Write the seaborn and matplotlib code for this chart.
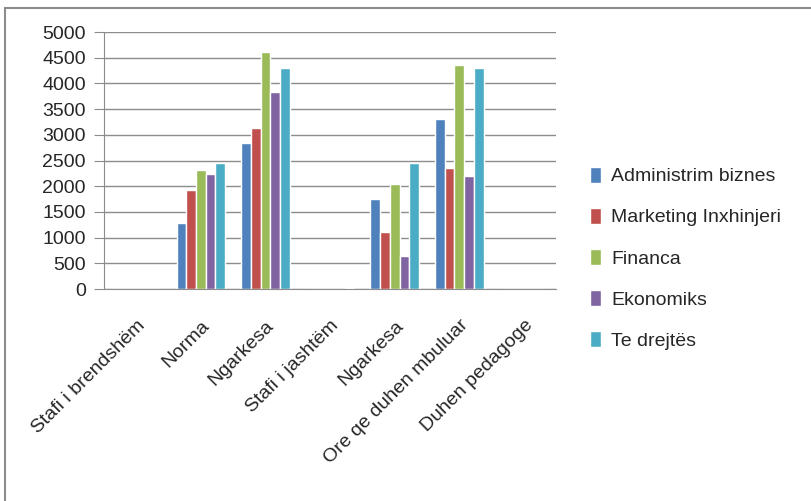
import numpy as np
import pandas as pd
import matplotlib
matplotlib.use('Agg')
import matplotlib.pyplot as plt
import seaborn as sns
from matplotlib.patches import Rectangle

# te dhenat
kategorite = ['Stafi i brendshëm', 'Norma', 'Ngarkesa', 'Stafi i jashtëm',
              'Ngarkesa', 'Ore qe duhen mbuluar', 'Duhen pedagoge']
seriet = ['Administrim biznes', 'Marketing Inxhinjeri', 'Financa', 'Ekonomiks', 'Te drejtës']
admin = [0, 1290, 2850, 0, 1750, 3310, 0]
marketing = [0, 1920, 3140, 0, 1110, 2350, 0]
financa = [0, 2310, 4610, 0, 2050, 4350, 0]
ekonomiks = [0, 2240, 3830, 0, 640, 2200, 0]
drejtes = [0, 2460, 4310, 30, 2460, 4310, 0]
ngjyrat = ['#4F81BD', '#C0504D', '#9BBB59', '#8064A2', '#4BACC6']

sns.set_style('white')
plt.rcParams['font.family'] = ['Liberation Sans', 'DejaVu Sans']

rows = []
for s, vals in zip(seriet, [admin, marketing, financa, ekonomiks, drejtes]):
    for i, v in enumerate(vals):
        rows.append({'poz': i, 'seria': s, 'vlera': v})
df = pd.DataFrame(rows)

fig = plt.figure(figsize=(8.12, 5.01), dpi=100)
ax = fig.add_axes([0.128, 0.423, 0.557, 0.513])
sns.barplot(data=df, x='poz', y='vlera', hue='seria', hue_order=seriet,
            order=list(range(7)), palette=ngjyrat, width=0.75, ax=ax,
            saturation=1, errorbar=None)

ax.set_ylim(0, 5000)
ax.set_xlim(-0.5, 6.5)
ax.set_yticks(range(0, 5001, 500))
ax.grid(axis='y', color='#8c8c8c', linewidth=1)
ax.set_axisbelow(True)
for sp in ['top', 'right']:
    ax.spines[sp].set_visible(False)
for sp in ['left', 'bottom']:
    ax.spines[sp].set_color('#8c8c8c')
ax.set_xlabel('')
ax.set_ylabel('')
ax.set_xticks(range(7))
ax.set_xticklabels(kategorite, rotation=45, ha='right', rotation_mode='anchor', fontsize=14)
ax.tick_params(axis='x', length=0, pad=20)
ax.set_xticks(np.arange(-0.5, 7, 1), minor=True)
ax.tick_params(axis='x', which='minor', length=6, color='#8c8c8c', direction='out')
ax.tick_params(axis='y', length=7, color='#8c8c8c', labelsize=14, pad=6, left=True)

ax.legend(loc='center left', bbox_to_anchor=(1.035, 0.12), frameon=False, fontsize=14,
          handlelength=0.6, handleheight=0.9, labelspacing=1.15, handletextpad=0.5)

fig.patches.append(Rectangle((0.006, -0.05), 1.1, 1.035, transform=fig.transFigure,
                             fill=False, edgecolor='#8c8c8c', linewidth=1.5))

fig.savefig('out.png', dpi=100)
